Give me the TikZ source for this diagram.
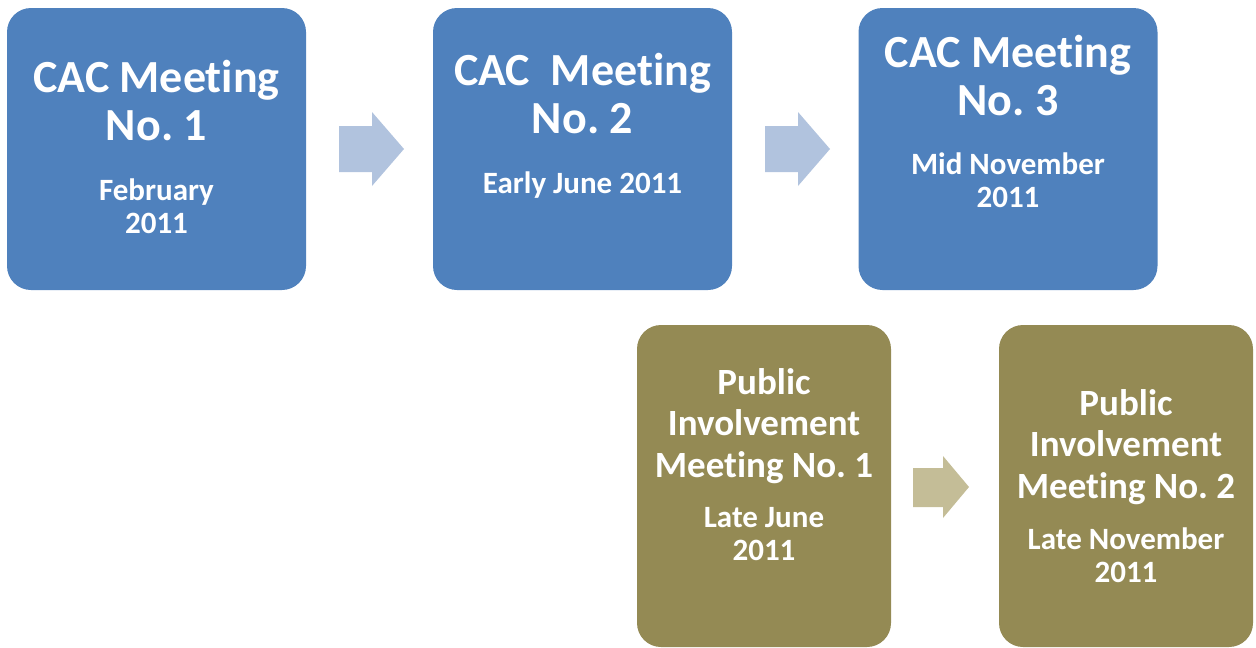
\documentclass[tikz,border=0pt]{standalone}
\usepackage{fontspec}
\setmainfont{Carlito}[Ligatures=CommonOff]
\frenchspacing
\definecolor{cacblue}{HTML}{4F81BD}
\definecolor{arrblue}{HTML}{B1C3DE}
\definecolor{pubolive}{HTML}{948A54}
\definecolor{arrolive}{HTML}{C4BD97}
\begin{document}
\begin{tikzpicture}[x=1pt,y=-1pt,
  box/.style={rectangle,rounded corners=24pt,inner sep=0pt,draw=none},
  bluebox/.style={box,fill=cacblue,minimum width=299pt,minimum height=282pt},
  olivebox/.style={box,fill=pubolive,minimum width=254pt,minimum height=322pt},
  ttl/.style={text=white,align=center,inner sep=0pt,anchor=base,font=\fontsize{46}{48}\selectfont\bfseries},
  ptl/.style={text=white,align=center,inner sep=0pt,anchor=base,font=\fontsize{37}{41.5}\selectfont\bfseries},
  dt/.style={text=white,align=center,inner sep=0pt,anchor=base,font=\fontsize{31}{33}\selectfont\bfseries},
  arrb/.style={fill=arrblue,draw=none},
  arro/.style={fill=arrolive,draw=none}]
\useasboundingbox (0,0) rectangle (1256,648);
% boxes
\node[bluebox] (b1) at (156.5,149) {};
\node[bluebox] (b2) at (582.5,149) {};
\node[bluebox] (b3) at (1008,149) {};
\node[olivebox] (b4) at (764,486) {};
\node[olivebox] (b5) at (1126,486) {};
% texts (anchor = baseline of last line)
\node[ttl] (t1) at (156.5,140) {CAC Meeting\\No. 1};
\node[dt]  (d1) at (156.5,233) {February\\2011};
\node[ttl] (t2) at (582.5,133) {CAC\ \ Meeting\\No. 2};
\node[dt]  (d2) at (582.5,193) {Early June 2011};
\node[ttl] (t3) at (1008,115) {CAC Meeting\\No. 3};
\node[dt]  (d3) at (1008,207) {Mid November\\2011};
\node[ptl] (t4) at (764,477) {Public\\Involvement\\Meeting No. 1};
\node[dt]  (d4) at (764,560) {Late June\\2011};
\node[ptl] (t5) at (1126,498) {Public\\Involvement\\Meeting No. 2};
\node[dt]  (d5) at (1126,582) {Late November\\2011};
% arrows
\fill[arrb] (339,126) -- (372,126) -- (372,112) -- (404,149) -- (372,186) -- (372,172) -- (339,172) -- cycle;
\fill[arrb] (765,126) -- (798,126) -- (798,112) -- (830,149) -- (798,186) -- (798,172) -- (765,172) -- cycle;
\fill[arro] (913,468) -- (943,468) -- (943,456) -- (969,487) -- (943,518) -- (943,507) -- (913,507) -- cycle;
\end{tikzpicture}
\end{document}
